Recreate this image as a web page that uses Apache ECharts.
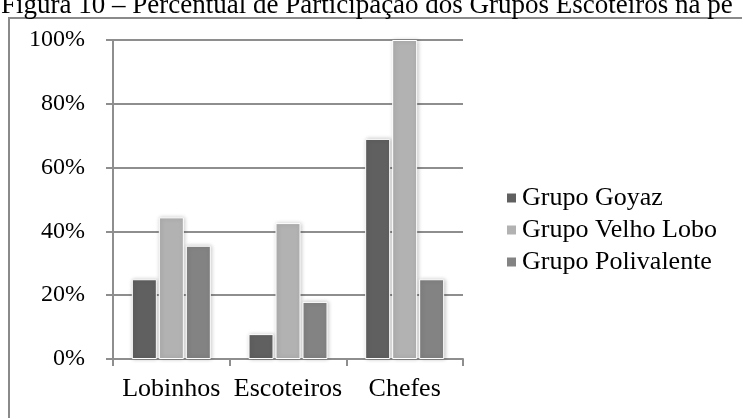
<!DOCTYPE html>
<html>
<head>
<meta charset="utf-8">
<script src="https://cdn.jsdelivr.net/npm/echarts@6/dist/echarts.min.js"></script>
<style>
  html, body { margin: 0; padding: 0; background: #fff; }
  #chart { width: 742px; height: 418px; }
</style>
</head>
<body>
<div id="chart"></div>
<script>
// Participation (%) of each scout group by section
const categories = ['Lobinhos', 'Escoteiros', 'Chefes'];
const seriesNames = ['Grupo Goyaz', 'Grupo Velho Lobo', 'Grupo Polivalente'];
const grupoGoyaz = [25, 7.8, 69];
const grupoVelhoLobo = [44.4, 42.6, 100];
const grupoPolivalente = [35.5, 17.9, 25];
const yTicks = [0, 20, 40, 60, 80, 100];
const captionText = 'Figura 10 – Percentual de Participação dos Grupos Escoteiros na pe';

const FONT = '"Liberation Serif", "Times New Roman", serif';
const colors = ['#606060', '#b2b2b2', '#838383'];
const axisGray = '#8e8e8e';

const chart = echarts.init(document.getElementById('chart'), null, { renderer: 'canvas' });

const barStyle = (color) => ({
  color: color,
  borderColor: '#ffffff',
  borderWidth: 1,
  shadowColor: 'rgba(0,0,0,0.22)',
  shadowBlur: 4,
  shadowOffsetX: 1,
  shadowOffsetY: 0
});

const seriesData = [grupoGoyaz, grupoVelhoLobo, grupoPolivalente];

chart.setOption({
  animation: false,
  backgroundColor: '#ffffff',
  textStyle: { fontFamily: FONT },
  graphic: [
    {
      type: 'rect',
      shape: { x: 9, y: 18, width: 900, height: 600 },
      style: { fill: 'none', stroke: '#8a8a8a', lineWidth: 2 },
      silent: true
    },
    {
      type: 'text',
      x: 1,
      y: -8,
      style: {
        text: captionText,
        font: '27px ' + FONT,
        fill: '#000000',
        textVerticalAlign: 'top'
      },
      silent: true
    }
  ],
  legend: {
    orient: 'vertical',
    left: 505,
    top: 185,
    padding: 0,
    itemWidth: 11,
    itemHeight: 11,
    itemGap: 6,
    icon: 'rect',
    data: seriesNames,
    textStyle: { fontFamily: FONT, fontSize: 26, color: '#000', lineHeight: 26 }
  },
  grid: { left: 113, right: 279, top: 40, bottom: 59, containLabel: false },
  xAxis: {
    type: 'category',
    data: categories,
    axisLine: { show: true, lineStyle: { color: axisGray, width: 2 } },
    axisTick: { show: true, length: 7, lineStyle: { color: axisGray, width: 2 } },
    axisLabel: { interval: 0, fontFamily: FONT, fontSize: 26, color: '#000', margin: 17 },
    splitLine: { show: false }
  },
  yAxis: {
    type: 'value',
    min: yTicks[0],
    max: yTicks[yTicks.length - 1],
    interval: yTicks[1] - yTicks[0],
    axisLine: { show: true, lineStyle: { color: axisGray, width: 2 } },
    axisTick: { show: true, length: 7, lineStyle: { color: axisGray, width: 2 } },
    axisLabel: { fontFamily: FONT, fontSize: 24, color: '#000', margin: 28, formatter: '{value}%' },
    splitLine: { show: true, lineStyle: { color: axisGray, width: 2 } }
  },
  series: seriesNames.map((name, i) => ({
    name: name,
    type: 'bar',
    data: seriesData[i],
    barWidth: 25,
    barGap: '8%',
    itemStyle: barStyle(colors[i])
  }))
});
</script>
</body>
</html>
